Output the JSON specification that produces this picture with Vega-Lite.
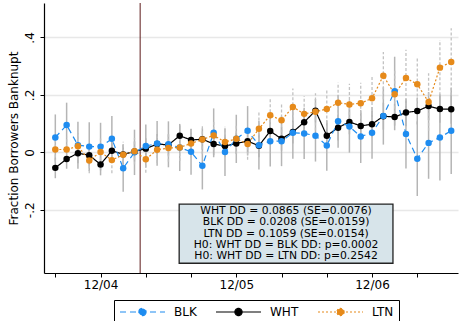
{
  "$schema": "https://vega.github.io/schema/vega-lite/v6.json",
  "width": 414,
  "height": 270,
  "autosize": {"type": "none"},
  "padding": {"left": 44, "top": 3, "right": 1, "bottom": 48},
  "config": {
    "font": "DejaVu Sans",
    "view": {"stroke": null},
    "axis": {"labelColor": "#000", "titleColor": "#000", "domainColor": "#000", "tickColor": "#000", "labelFontSize": 12, "titleFontSize": 12, "titleFontWeight": "normal", "domainWidth": 1.2, "tickWidth": 1}
  },
  "datasets": {
    "est": [
      {"m":535,"g":"WHT","v":-0.054,"lo":-0.090,"hi":-0.018},
      {"m":536,"g":"WHT","v":-0.023,"lo":-0.057,"hi":0.011},
      {"m":537,"g":"WHT","v":-0.003,"lo":-0.038,"hi":0.032},
      {"m":538,"g":"WHT","v":-0.010,"lo":-0.046,"hi":0.026},
      {"m":539,"g":"WHT","v":-0.042,"lo":-0.080,"hi":-0.004},
      {"m":540,"g":"WHT","v":0.006,"lo":-0.029,"hi":0.041},
      {"m":541,"g":"WHT","v":-0.007,"lo":-0.041,"hi":0.027},
      {"m":542,"g":"WHT","v":0.003,"lo":-0.032,"hi":0.038},
      {"m":543,"g":"WHT","v":0.013,"lo":-0.023,"hi":0.049},
      {"m":544,"g":"WHT","v":0.029,"lo":-0.006,"hi":0.064},
      {"m":545,"g":"WHT","v":0.026,"lo":-0.011,"hi":0.063},
      {"m":546,"g":"WHT","v":0.058,"lo":0.022,"hi":0.094},
      {"m":547,"g":"WHT","v":0.043,"lo":0.005,"hi":0.081},
      {"m":548,"g":"WHT","v":0.046,"lo":0.009,"hi":0.083},
      {"m":549,"g":"WHT","v":0.029,"lo":-0.010,"hi":0.068},
      {"m":550,"g":"WHT","v":0.022,"lo":-0.016,"hi":0.060},
      {"m":551,"g":"WHT","v":0.031,"lo":-0.006,"hi":0.068},
      {"m":552,"g":"WHT","v":0.039,"lo":0.000,"hi":0.078},
      {"m":553,"g":"WHT","v":0.023,"lo":-0.017,"hi":0.063},
      {"m":554,"g":"WHT","v":0.074,"lo":0.035,"hi":0.113},
      {"m":555,"g":"WHT","v":0.047,"lo":0.006,"hi":0.088},
      {"m":556,"g":"WHT","v":0.071,"lo":0.031,"hi":0.111},
      {"m":557,"g":"WHT","v":0.105,"lo":0.063,"hi":0.147},
      {"m":558,"g":"WHT","v":0.145,"lo":0.104,"hi":0.186},
      {"m":559,"g":"WHT","v":0.058,"lo":0.014,"hi":0.102},
      {"m":560,"g":"WHT","v":0.086,"lo":0.041,"hi":0.131},
      {"m":561,"g":"WHT","v":0.106,"lo":0.063,"hi":0.149},
      {"m":562,"g":"WHT","v":0.092,"lo":0.046,"hi":0.138},
      {"m":563,"g":"WHT","v":0.098,"lo":0.053,"hi":0.143},
      {"m":564,"g":"WHT","v":0.126,"lo":0.079,"hi":0.173},
      {"m":565,"g":"WHT","v":0.123,"lo":0.077,"hi":0.169},
      {"m":566,"g":"WHT","v":0.139,"lo":0.091,"hi":0.187},
      {"m":567,"g":"WHT","v":0.144,"lo":0.097,"hi":0.191},
      {"m":568,"g":"WHT","v":0.161,"lo":0.112,"hi":0.210},
      {"m":569,"g":"WHT","v":0.151,"lo":0.103,"hi":0.199},
      {"m":570,"g":"WHT","v":0.150,"lo":0.100,"hi":0.200},
      {"m":535,"g":"BLK","v":0.052,"lo":-0.028,"hi":0.132},
      {"m":536,"g":"BLK","v":0.095,"lo":0.017,"hi":0.173},
      {"m":537,"g":"BLK","v":0.025,"lo":-0.057,"hi":0.107},
      {"m":538,"g":"BLK","v":0.020,"lo":-0.065,"hi":0.105},
      {"m":539,"g":"BLK","v":0.020,"lo":-0.063,"hi":0.103},
      {"m":540,"g":"BLK","v":0.047,"lo":-0.033,"hi":0.127},
      {"m":541,"g":"BLK","v":-0.055,"lo":-0.137,"hi":0.027},
      {"m":542,"g":"BLK","v":0.000,"lo":-0.079,"hi":0.079},
      {"m":543,"g":"BLK","v":0.022,"lo":-0.053,"hi":0.097},
      {"m":544,"g":"BLK","v":0.031,"lo":-0.047,"hi":0.109},
      {"m":545,"g":"BLK","v":0.028,"lo":-0.052,"hi":0.108},
      {"m":546,"g":"BLK","v":0.017,"lo":-0.065,"hi":0.099},
      {"m":547,"g":"BLK","v":0.002,"lo":-0.078,"hi":0.082},
      {"m":548,"g":"BLK","v":-0.047,"lo":-0.129,"hi":0.035},
      {"m":549,"g":"BLK","v":0.068,"lo":-0.017,"hi":0.153},
      {"m":550,"g":"BLK","v":0.001,"lo":-0.082,"hi":0.084},
      {"m":551,"g":"BLK","v":0.047,"lo":-0.037,"hi":0.131},
      {"m":552,"g":"BLK","v":0.075,"lo":-0.011,"hi":0.161},
      {"m":553,"g":"BLK","v":0.025,"lo":-0.060,"hi":0.110},
      {"m":554,"g":"BLK","v":0.039,"lo":-0.049,"hi":0.127},
      {"m":555,"g":"BLK","v":0.039,"lo":-0.048,"hi":0.126},
      {"m":556,"g":"BLK","v":0.068,"lo":-0.022,"hi":0.158},
      {"m":557,"g":"BLK","v":0.066,"lo":-0.023,"hi":0.155},
      {"m":558,"g":"BLK","v":0.058,"lo":-0.032,"hi":0.148},
      {"m":559,"g":"BLK","v":0.024,"lo":-0.064,"hi":0.112},
      {"m":560,"g":"BLK","v":0.108,"lo":0.016,"hi":0.200},
      {"m":561,"g":"BLK","v":0.090,"lo":-0.001,"hi":0.181},
      {"m":562,"g":"BLK","v":0.055,"lo":-0.037,"hi":0.147},
      {"m":563,"g":"BLK","v":0.068,"lo":-0.022,"hi":0.158},
      {"m":564,"g":"BLK","v":0.127,"lo":0.027,"hi":0.227},
      {"m":565,"g":"BLK","v":0.213,"lo":0.093,"hi":0.333},
      {"m":566,"g":"BLK","v":0.064,"lo":-0.056,"hi":0.184},
      {"m":567,"g":"BLK","v":-0.022,"lo":-0.152,"hi":0.108},
      {"m":568,"g":"BLK","v":0.033,"lo":-0.092,"hi":0.158},
      {"m":569,"g":"BLK","v":0.052,"lo":-0.098,"hi":0.202},
      {"m":570,"g":"BLK","v":0.075,"lo":-0.075,"hi":0.225},
      {"m":535,"g":"LTN","v":0.010,"lo":-0.035,"hi":0.055},
      {"m":536,"g":"LTN","v":0.010,"lo":-0.034,"hi":0.054},
      {"m":537,"g":"LTN","v":0.021,"lo":-0.025,"hi":0.067},
      {"m":538,"g":"LTN","v":-0.028,"lo":-0.073,"hi":0.017},
      {"m":539,"g":"LTN","v":0.001,"lo":-0.046,"hi":0.048},
      {"m":540,"g":"LTN","v":-0.027,"lo":-0.073,"hi":0.019},
      {"m":541,"g":"LTN","v":-0.008,"lo":-0.053,"hi":0.037},
      {"m":542,"g":"LTN","v":0.004,"lo":-0.042,"hi":0.050},
      {"m":543,"g":"LTN","v":-0.024,"lo":-0.071,"hi":0.023},
      {"m":544,"g":"LTN","v":0.009,"lo":-0.037,"hi":0.055},
      {"m":545,"g":"LTN","v":0.015,"lo":-0.033,"hi":0.063},
      {"m":546,"g":"LTN","v":0.017,"lo":-0.030,"hi":0.064},
      {"m":547,"g":"LTN","v":0.031,"lo":-0.019,"hi":0.081},
      {"m":548,"g":"LTN","v":0.045,"lo":-0.007,"hi":0.097},
      {"m":549,"g":"LTN","v":0.059,"lo":0.008,"hi":0.110},
      {"m":550,"g":"LTN","v":0.036,"lo":-0.017,"hi":0.089},
      {"m":551,"g":"LTN","v":0.047,"lo":-0.005,"hi":0.099},
      {"m":552,"g":"LTN","v":0.029,"lo":-0.026,"hi":0.084},
      {"m":553,"g":"LTN","v":0.082,"lo":0.024,"hi":0.140},
      {"m":554,"g":"LTN","v":0.129,"lo":0.070,"hi":0.188},
      {"m":555,"g":"LTN","v":0.112,"lo":0.052,"hi":0.172},
      {"m":556,"g":"LTN","v":0.158,"lo":0.094,"hi":0.222},
      {"m":557,"g":"LTN","v":0.134,"lo":0.072,"hi":0.196},
      {"m":558,"g":"LTN","v":0.141,"lo":0.076,"hi":0.206},
      {"m":559,"g":"LTN","v":0.151,"lo":0.083,"hi":0.219},
      {"m":560,"g":"LTN","v":0.173,"lo":0.103,"hi":0.243},
      {"m":561,"g":"LTN","v":0.167,"lo":0.095,"hi":0.239},
      {"m":562,"g":"LTN","v":0.171,"lo":0.100,"hi":0.242},
      {"m":563,"g":"LTN","v":0.188,"lo":0.113,"hi":0.263},
      {"m":564,"g":"LTN","v":0.267,"lo":0.185,"hi":0.349},
      {"m":565,"g":"LTN","v":0.202,"lo":0.117,"hi":0.287},
      {"m":566,"g":"LTN","v":0.259,"lo":0.161,"hi":0.357},
      {"m":567,"g":"LTN","v":0.237,"lo":0.142,"hi":0.332},
      {"m":568,"g":"LTN","v":0.175,"lo":0.075,"hi":0.275},
      {"m":569,"g":"LTN","v":0.295,"lo":0.199,"hi":0.391},
      {"m":570,"g":"LTN","v":0.315,"lo":0.198,"hi":0.432}
    ],
    "note": [
      {"lines": ["WHT DD = 0.0865 (SE=0.0076)", "BLK DD = 0.0208 (SE=0.0159)", "LTN DD = 0.1059 (SE=0.0154)", "H0: WHT DD = BLK DD: p=0.0002", "H0: WHT DD = LTN DD: p=0.2542"]}
    ]
  },
  "data": {"name": "est"},
  "layer": [
    {
      "transform": [{"filter": "datum.g != 'LTN'"}],
      "mark": {"type": "rule", "color": "#b5b5b5", "strokeWidth": 1.5},
      "encoding": {
        "x": {"field": "m", "type": "quantitative",
          "scale": {"domain": [534, 570.6], "nice": false, "zero": false},
          "axis": {"title": null, "values": [535,536,537,538,539,540,541,542,543,544,545,546,547,548,549,550,551,552,553,554,555,556,557,558,559,560,561,562,563,564,565,566,567,568,569,570],
            "labelExpr": "datum.value == 539 ? '12/04' : datum.value == 551 ? '12/05' : datum.value == 563 ? '12/06' : ''",
            "tickSize": 4, "labelPadding": 2, "grid": false, "labelOverlap": false, "labelFlush": false}},
        "xOffset": {"field": "g", "type": "nominal", "scale": {"domain": ["WHT", "BLK", "LTN"], "range": [-2.3, 0, 2.3]}},
        "y": {"field": "lo", "type": "quantitative",
          "scale": {"domain": [-0.42, 0.52], "nice": false, "zero": false},
          "axis": {"title": "Fraction Borrowers Banknupt", "values": [-0.2, 0, 0.2, 0.4],
            "labelExpr": "datum.value < -0.1 ? '-.2' : datum.value < 0.1 ? '0' : datum.value < 0.3 ? '.2' : '.4'",
            "labelAngle": -90, "labelAlign": "center", "labelBaseline": "alphabetic",
            "tickSize": 4, "labelPadding": 7, "titlePadding": 3,
            "grid": true, "gridColor": "#e8e8e8", "gridWidth": 1.5}},
        "y2": {"field": "hi"}
      }
    },
    {
      "transform": [{"filter": "datum.g == 'LTN'"}],
      "mark": {"type": "rule", "color": "#c2c2c2", "strokeWidth": 1.3, "strokeDash": [3, 2]},
      "encoding": {
        "x": {"field": "m", "type": "quantitative"},
        "xOffset": {"field": "g", "type": "nominal"},
        "y": {"field": "lo", "type": "quantitative"},
        "y2": {"field": "hi"}
      }
    },
    {
      "data": {"values": [{}]},
      "mark": {"type": "rule", "color": "#5c1a1a", "strokeWidth": 1},
      "encoding": {"x": {"datum": 542.5, "type": "quantitative"}}
    },
    {
      "mark": {"type": "line", "strokeWidth": 1.2},
      "encoding": {
        "x": {"field": "m", "type": "quantitative"},
        "xOffset": {"field": "g", "type": "nominal"},
        "y": {"field": "v", "type": "quantitative"},
        "color": {"field": "g", "type": "nominal",
          "scale": {"domain": ["BLK", "WHT", "LTN"], "range": ["#1e8cf0", "#000000", "#e68a1a"]},
          "legend": {"title": null, "orient": "none", "legendX": 70, "legendY": 297, "direction": "horizontal",
            "symbolType": "M-1,0H1M0.16,0A0.16,0.16,0,1,1,-0.16,0A0.16,0.16,0,1,1,0.16,0",
            "symbolSize": 2025, "symbolStrokeWidth": 1.2, "clipHeight": 14,
            "labelFontSize": 12, "labelColor": "#000", "labelOffset": 8, "columnPadding": 18,
            "padding": 5, "strokeColor": "#000", "fillColor": "#fff",
            "encode": {"symbols": {"update": {"fill": {"scale": "color", "field": "value"}, "fillOpacity": {"value": 1}}}}}},
        "strokeDash": {"field": "g", "type": "nominal",
          "scale": {"domain": ["BLK", "WHT", "LTN"], "range": [[6, 4], [1, 0], [2, 2]]}}
      }
    },
    {
      "mark": {"type": "point", "filled": true, "size": 42, "opacity": 1},
      "encoding": {
        "x": {"field": "m", "type": "quantitative"},
        "xOffset": {"field": "g", "type": "nominal"},
        "y": {"field": "v", "type": "quantitative"},
        "color": {"field": "g", "type": "nominal"}
      }
    },
    {
      "data": {"values": [{}]},
      "mark": {"type": "rect", "fill": "#d7e4ea", "stroke": "#222", "strokeWidth": 1.3},
      "encoding": {
        "x": {"datum": 545.95, "type": "quantitative"},
        "x2": {"datum": 564.85},
        "y": {"datum": -0.18, "type": "quantitative"},
        "y2": {"datum": -0.386}
      }
    },
    {
      "data": {"name": "note"},
      "mark": {"type": "text", "fontSize": 10.8, "lineHeight": 11.3, "baseline": "middle", "align": "center", "color": "#000"},
      "encoding": {
        "x": {"datum": 555.4, "type": "quantitative"},
        "y": {"datum": -0.2045, "type": "quantitative"},
        "text": {"field": "lines", "type": "nominal"}
      }
    }
  ]
}
